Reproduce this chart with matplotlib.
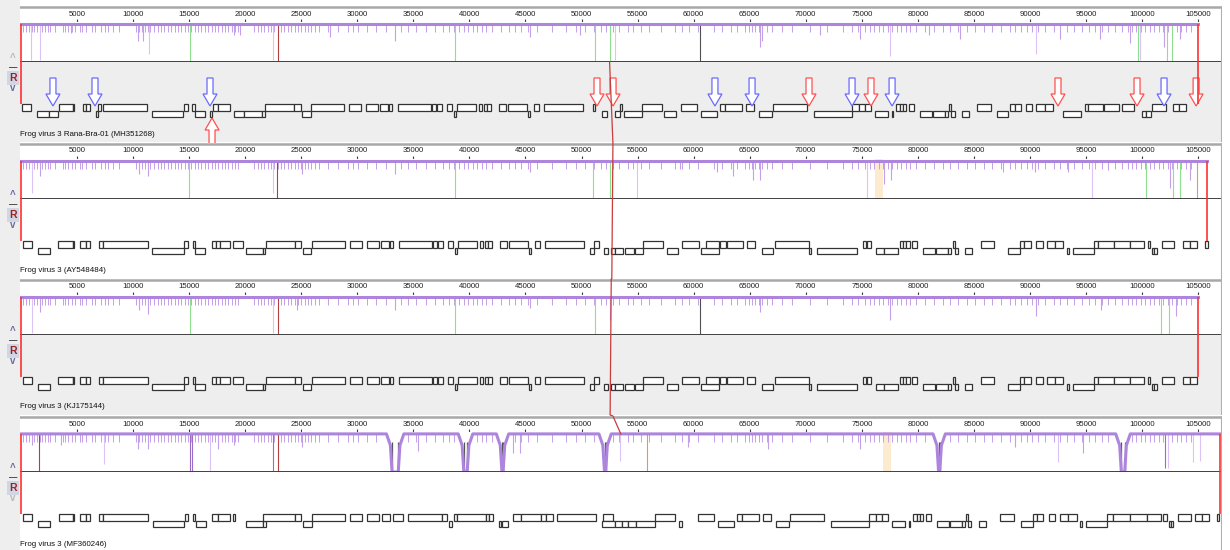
import matplotlib
matplotlib.use("Agg")
import matplotlib.pyplot as plt
from matplotlib.patches import Rectangle, Polygon

W, H = 1230, 550
BP_PER_PX = 89.2
X_ZERO = 21

names = ["Frog virus 3 Rana-Bra-01 (MH351268)", "Frog virus 3 (AY548484)",
         "Frog virus 3 (KJ175144)", "Frog virus 3 (MF360246)"]
lengths = [105000, 105800, 105000, 106950]
tick_pos = list(range(5000, 110000, 5000))

# ORFs: (start, end, strand)  1 = forward row, -1 = reverse row
genes_mh = [
    (60, 870, 1), (1450, 2500, -1), (2500, 3330, -1), (3390, 4640, 1), (4640, 4760, 1),
    (5530, 5830, 1), (5830, 6130, 1), (6660, 6840, -1), (6900, 7110, 1), (7310, 11270, 1),
    (11660, 14450, -1), (14570, 14930, 1), (15280, 15520, 1), (15520, 16410, -1), (16830, 17010, -1),
    (17160, 17600, 1), (17600, 18640, 1), (18970, 19890, -1), (19890, 21530, -1), (21530, 21740, -1),
    (21770, 24380, 1), (24380, 24950, 1), (25100, 25840, -1), (25840, 28810, 1), (29260, 30300, 1),
    (30750, 31870, 1), (32000, 32770, 1), (32830, 33070, 1), (33660, 36540, 1), (36640, 37050, 1),
    (37140, 37530, 1), (38030, 38420, 1), (38630, 38830, -1), (38920, 40560, 1), (40860, 41100, 1),
    (41300, 41600, 1), (41600, 41900, 1), (42640, 43290, 1), (43470, 45170, 1), (45260, 45400, -1),
    (45760, 46210, 1), (46650, 50130, 1), (51030, 51200, 1), (51860, 52300, -1), (52990, 53430, -1),
    (53430, 53640, 1), (53790, 55430, -1), (55430, 57150, 1), (57390, 58460, -1), (58850, 60330, 1),
    (60630, 62110, -1), (62360, 62770, 1), (62770, 64290, 1), (64700, 65390, 1), (65830, 66970, -1),
    (67110, 70150, 1), (70740, 74100, -1), (74160, 74750, 1), (74750, 75290, 1), (75290, 75800, 1),
    (76180, 77370, -1), (77670, 77810, -1), (78080, 78380, 1), (78380, 78680, 1), (78680, 78980, 1),
    (79210, 79660, 1), (80170, 81240, -1), (81360, 82430, -1), (82430, 82700, -1), (82790, 82990, 1),
    (82990, 83280, -1), (83920, 84570, -1), (85310, 86500, 1), (87090, 88070, -1), (88200, 88670, 1),
    (88670, 89180, 1), (89620, 90210, 1), (90570, 91350, 1), (91350, 92060, 1), (92950, 94530, -1),
    (94920, 95210, 1), (95210, 96520, 1), (96610, 97950, 1), (98190, 99290, 1), (99970, 100370, -1),
    (100370, 100770, -1), (100920, 102110, 1), (102770, 103300, 1), (103300, 103900, 1),
]
genes_ay = [
    (150, 950, 1), (1550, 2590, -1), (3330, 4610, 1), (4610, 4730, 1), (5260, 5800, 1), (5800, 6150, 1),
    (6960, 7340, 1), (7340, 11360, 1), (11660, 14540, -1), (14540, 14920, 1), (15370, 15520, 1),
    (15520, 16410, -1), (17010, 17400, 1), (17400, 17750, 1), (17750, 18640, 1), (18940, 19770, 1),
    (20070, 21610, -1), (21610, 21800, -1), (21830, 24440, 1), (24440, 24950, 1), (25180, 25840, -1),
    (25930, 28900, 1), (29350, 30390, 1), (30840, 31960, 1), (32090, 32860, 1), (32920, 33160, 1),
    (33750, 36630, 1), (36730, 37140, 1), (37230, 37620, 1), (38120, 38510, 1), (38720, 38920, -1),
    (39010, 40650, 1), (40950, 41190, 1), (41390, 41690, 1), (41690, 41990, 1), (42730, 43380, 1),
    (43560, 45260, 1), (45350, 45490, -1), (45850, 46300, 1), (46740, 50200, 1), (50790, 51090, -1),
    (51090, 51590, 1), (51990, 52390, -1), (52640, 52990, -1), (52990, 53740, -1), (53890, 54640, -1),
    (54790, 55490, -1), (55490, 57290, 1), (57590, 58640, -1), (58940, 60490, 1), (60690, 62240, -1),
    (61090, 62290, 1), (62390, 62890, 1), (62940, 64440, 1), (64790, 65490, 1), (66070, 67090, -1),
    (67260, 70320, 1), (70320, 70450, -1), (70990, 74590, -1), (75090, 75390, 1), (75490, 75790, 1),
    (76240, 76940, -1), (76940, 78190, -1), (78380, 78680, 1), (78680, 78980, 1), (78980, 79280, 1),
    (79510, 79960, 1), (80470, 81540, -1), (81660, 82730, -1), (82730, 83000, -1), (83090, 83290, 1),
    (83290, 83580, -1), (84220, 84870, -1), (85610, 86800, 1), (88020, 89140, -1), (89140, 89490, 1),
    (89490, 90090, 1), (90540, 91140, 1), (91520, 92230, 1), (92230, 92920, 1), (93290, 93510, -1),
    (93810, 95680, -1), (95680, 96100, 1), (96100, 97470, 1), (97470, 98950, 1), (98950, 100200, 1),
    (100500, 100740, 1), (100890, 101100, -1), (101100, 101330, -1), (101780, 102880, 1),
    (103690, 104310, 1), (104310, 104900, 1), (105620, 105860, 1),
]
genes_kj = [g for g in genes_ay if g[1] < 105000]
genes_mf = [
    (150, 950, 1), (1550, 2590, -1), (3420, 4610, 1), (4610, 4690, 1), (5260, 5800, 1), (5800, 6150, 1),
    (6960, 7340, 1), (7340, 11360, 1), (11750, 14540, -1), (14630, 14920, 1), (15370, 15520, 1),
    (15640, 16500, -1), (17010, 17570, 1), (17570, 18640, 1), (18940, 19100, 1), (20070, 21630, -1),
    (21630, 21810, -1), (21630, 24440, 1), (24440, 24950, 1), (25180, 25930, -1), (25930, 28900, 1),
    (29350, 30390, 1), (30840, 31960, 1), (32170, 32910, 1), (33210, 34050, 1), (34550, 37530, 1),
    (37530, 37970, 1), (38210, 38420, -1), (38620, 38920, 1), (38920, 41480, 1), (41480, 41770, 1),
    (41770, 42070, 1), (42670, 42790, -1), (42880, 43470, -1), (43860, 44570, 1), (44570, 46360, 1),
    (46360, 46830, 1), (46830, 47430, 1), (47840, 51290, 1), (51890, 52840, 1), (51800, 52990, -1),
    (52990, 53580, -1), (53580, 54170, -1), (54170, 54860, -1), (54860, 56550, -1), (56550, 58340, 1),
    (58700, 59000, -1), (60350, 61830, 1), (62130, 63610, -1), (63860, 64270, 1), (64270, 65790, 1),
    (66200, 66890, 1), (67330, 68470, -1), (68610, 71650, 1), (72240, 75600, -1), (75660, 76250, 1),
    (76250, 76790, 1), (76790, 77300, 1), (77680, 78870, -1), (79170, 79310, -1), (79580, 79880, 1),
    (79880, 80180, 1), (80180, 80480, 1), (80710, 81160, 1), (81670, 82740, -1), (82860, 83930, -1),
    (83930, 84200, -1), (84290, 84490, 1), (84490, 84780, -1), (85420, 86070, -1), (87330, 88580, 1),
    (89170, 90240, -1), (90240, 90650, 1), (90650, 91190, 1), (91730, 92230, 1), (92680, 93420, 1),
    (93420, 94170, 1), (94460, 94670, -1), (95000, 96900, -1), (96900, 97380, 1), (97380, 98920, 1),
    (98920, 100410, 1), (100410, 101660, 1), (101900, 102200, 1), (102430, 102610, -1),
    (102610, 102790, -1), (103240, 104340, 1), (104730, 105320, 1), (105320, 106000, 1),
    (106660, 106890, 1),
]
genes_all = [genes_mh, genes_ay, genes_kj, genes_mf]

# rearrangement arrows on the first genome
arrows_blue = [2850, 6600, 16860, 61900, 65210, 74130, 77700, 101960]
arrows_red = [51380, 52810, 70290, 75820, 92500, 99550, 104820]
arrow_up_red = [17040]

# similarity profile: short ticks under the top line
short_ticks = [200, 450, 700, 950, 1200, 1450, 1700, 1900, 2150, 2400, 2600, 3000, 3750, 3950, 4200,
               4550, 4800, 5250, 5450, 5800, 6350, 6600, 7100, 7450, 7800, 8200, 8700, 10300, 10550,
               10800, 11050, 11300, 11500, 11900, 12200, 12500, 12800, 13100, 13400, 13700, 14000, 14300,
               14600, 14900, 15200, 15500, 15800, 16100, 16400, 16700, 17000, 17300, 17600, 17900, 18200,
               18500, 18800, 19100, 19400, 20800, 21100, 21400, 21700, 22000, 22300, 22600, 22900, 23200,
               23500, 23800, 24100, 24400, 24700, 25000, 25300, 25600, 25900, 26200, 26600, 27400, 28300,
               29200, 29600, 30100, 30900, 31700, 32600, 33400, 33900, 34500, 35200, 36100, 36900, 37600,
               38200, 38600, 39100, 39500, 39900, 40300, 40700, 41100, 41500, 42000, 42800, 43500, 44100,
               44600, 45200, 46000, 47400, 48600, 49500, 50300, 51100, 51700, 52200, 52800, 53300, 54100,
               54600, 55300, 56000, 57100, 58300, 59000, 59600, 60400, 61800, 62500, 63300, 63900, 64600,
               64900, 65200, 65500, 65800, 66100, 66500, 67000, 67900, 68800, 70400, 71900, 73300, 74100,
               74700, 75300, 75700, 76100, 76500, 76900, 77300, 77700, 78100, 78500, 78900, 79300, 79800,
               80600, 81400, 82200, 82900, 83600, 84400, 85100, 85900, 86600, 87400, 88200, 88700, 89200,
               89700, 90200, 90700, 91300, 92100, 92700, 93300, 93900, 94600, 95300, 95800, 96400, 97000,
               97600, 98200, 98700, 99100, 99500, 99900, 100300, 100700, 101100, 101500, 101900, 102300,
               102700, 103100, 103500, 103900, 104400]

# longer dips (position, depth 0..1, colour key)
dips_mh = [(900, 0.95, "l"), (1670, 0.95, "l"), (4430, 0.25, "m"), (10400, 0.45, "m"), (10900, 0.45, "m"),
           (11420, 0.8, "l"), (15080, 1.0, "g"), (19000, 0.3, "m"), (19500, 0.3, "m"), (22450, 0.95, "l"),
           (22950, 1.0, "r"), (27560, 0.35, "m"), (33360, 0.45, "m"), (38700, 1.0, "g"), (45400, 0.35, "m"),
           (49860, 0.3, "m"), (51200, 1.0, "g"), (52540, 1.0, "g"), (53000, 0.95, "l"), (60570, 1.0, "k"),
           (65920, 0.6, "m"), (66100, 0.45, "m"), (71270, 0.3, "m"), (74840, 0.4, "m"), (77520, 0.85, "l"),
           (81000, 0.3, "m"), (83760, 0.4, "m"), (90540, 0.8, "l"), (92700, 0.4, "m"), (96250, 0.4, "m"),
           (98900, 0.5, "m"), (99640, 1.0, "g"), (99800, 0.95, "l"), (102000, 0.6, "m"), (102200, 1.0, "g"),
           (102700, 1.0, "g"), (103380, 0.4, "m")]
dips_ay = [(950, 0.85, "l"), (1700, 0.4, "m"), (10500, 0.35, "m"), (11360, 0.4, "m"), (15020, 1.0, "g"),
           (22450, 0.85, "l"), (22800, 1.0, "r"), (25040, 0.35, "m"), (33400, 0.35, "m"), (38700, 1.0, "g"),
           (45400, 0.3, "m"), (51050, 1.0, "g"), (52540, 1.0, "g"), (54920, 1.0, "l"), (58780, 0.2, "m"),
           (62060, 0.3, "m"), (63500, 0.4, "m"), (65300, 0.5, "m"), (65900, 0.5, "m"), (75440, 1.0, "l"),
           (77000, 0.6, "m"), (77600, 0.5, "m"), (87600, 0.3, "m"), (90450, 0.3, "m"), (93400, 0.3, "m"),
           (95500, 1.0, "l"), (96960, 0.25, "m"), (100350, 1.0, "g"), (102500, 0.7, "m"), (102800, 1.0, "g"),
           (103400, 1.0, "g"), (104300, 0.5, "m"), (104870, 1.0, "o")]
dips_kj = [(950, 0.95, "l"), (1700, 0.4, "m"), (10500, 0.35, "m"), (11360, 0.45, "m"), (15080, 1.0, "g"),
           (22450, 0.95, "l"), (22950, 1.0, "r"), (24600, 0.35, "m"), (33400, 0.35, "m"), (38700, 1.0, "g"),
           (45400, 0.3, "m"), (51200, 1.0, "g"), (52500, 0.6, "m"), (60570, 1.0, "k"), (65900, 0.4, "m"),
           (77520, 0.6, "m"), (90500, 0.5, "m"), (96300, 0.35, "m"), (101700, 1.0, "g"), (102400, 1.0, "g"),
           (103000, 0.5, "m")]
dips_mf = [(950, 0.3, "m"), (1630, 1.0, "r"), (3540, 0.3, "m"), (7430, 0.8, "l"), (10400, 0.4, "m"),
           (11360, 0.4, "m"), (15070, 1.0, "d"), (15250, 1.0, "d"), (16860, 1.0, "l"), (17580, 0.4, "m"),
           (19000, 0.3, "m"), (22450, 1.0, "d"), (22950, 1.0, "r"), (25040, 0.35, "m"), (35440, 0.45, "m"),
           (43900, 0.5, "m"), (44500, 0.5, "m"), (53430, 0.7, "l"), (55840, 1.0, "o"), (59500, 0.35, "m"),
           (66600, 0.4, "m"), (74800, 0.4, "m"), (88670, 0.35, "m"), (92500, 0.75, "l"), (94740, 0.5, "m"),
           (102050, 0.9, "d"), (102300, 0.9, "l"), (104550, 0.75, "l"), (105170, 0.7, "l")]
dips_all = [dips_mh, dips_ay, dips_kj, dips_mf]
# collinear block borders in MF360246 where similarity falls to zero
gaps_mf = [(33100, 33650), (39500, 39800), (42900, 43000), (52050, 52150), (81850, 81950), (98150, 98450)]
short_ticks_mf = [t for t in short_ticks if not any(a - 600 < t < b + 600 for a, b in gaps_mf)]
peach = [None, (76180, 76870), None, (76900, 77600)]
# homologous position joined across the four genomes
lcb_link = [52500, 52800, 52650, 53500]

tops = [4, 141, 277, 414]
white_end = [1200, 1222, 1200, 1222]
gene_bg = ["#eeeeee", "white", "#eeeeee", "white"]
dip_col = {"l": "#dcc2f5", "m": "#c4a0e8", "g": "#8ee08e", "k": "#505050", "r": "#b04040",
           "o": "#d0a060", "d": "#9a6cc8"}


def px2bp(px):
    return (px - X_ZERO) * BP_PER_PX


def add_ax(l, t, w, h):
    ax = fig.add_axes([l / W, 1 - (t + h) / H, w / W, h / H])
    ax.set_xlim(px2bp(l), px2bp(l + w))
    ax.set_axis_off()
    return ax


fig = plt.figure(figsize=(W / 100, H / 100), dpi=100)
fig.patch.set_facecolor("white")
plt.rcParams["font.family"] = ["Liberation Sans", "DejaVu Sans"]

strip = fig.add_axes([0, 0, 20 / W, 1])
strip.set_axis_off()
strip.add_patch(Rectangle((0, 0), 1, 1, color="#eeeeee", lw=0, transform=strip.transAxes))

link = []
for i in range(4):
    t = tops[i]
    L = lengths[i]
    x_end = px2bp(white_end[i])
    x_lo, x_hi = px2bp(20), px2bp(1222)

    # genes strip + label
    axg = add_ax(20, t + 58, 1202, 80)
    axg.set_ylim(80, 0)
    axg.add_patch(Rectangle((x_lo, 0), x_hi - x_lo, 80, color=gene_bg[i], lw=0))
    for s, e, strand in genes_all[i]:
        y0 = 42 if strand > 0 else 48.5
        axg.add_patch(Rectangle((s, y0), e - s, 6.5, fc="white", ec="#333333", lw=0.9))
    axg.vlines([0, L], 0, [42, 42], color="#ff3030", lw=1.2)
    axg.vlines(x_hi, 0, 80, color="#b0b0b0", lw=1.5)
    axg.text(x_lo, 72, names[i], fontsize=5.7, color="#101010", va="center", ha="left")

    # similarity profile
    axs = add_ax(20, t + 18, 1202, 40)
    axs.set_ylim(0, 1.05)
    axs.add_patch(Rectangle((x_lo, 0), x_end - x_lo, 1.05, color="white", lw=0))
    if peach[i]:
        axs.axvspan(peach[i][0], peach[i][1], color="#fdebd0", lw=0)
    axs.vlines(short_ticks if i < 3 else short_ticks_mf, 0.8, 1, color="#c6a0ea", lw=0.7)
    for p, d, c in dips_all[i]:
        axs.vlines(p, 1 - d, 1, color=dip_col[c], lw=0.8)
    if i == 3:
        xs, ys = [0], [1]
        for s, e in gaps_mf:
            xs += [s - 500, s - 150, s, e, e + 150, e + 500]
            ys += [1, 0.7, 0, 0, 0.7, 1]
            axs.vlines([s, e], 0, 0.8, color="#555555", lw=0.9)
        xs.append(L)
        ys.append(1)
        axs.plot(xs, ys, color="#ad85dc", lw=2.2)
    else:
        axs.plot([0, L], [1, 1], color="#ad85dc", lw=2.2)
    axs.plot([x_lo, x_hi], [0, 0], color="#404040", lw=1.4)
    axs.vlines([0, L], 0, 1, color="#ff3030", lw=1.2)
    axs.vlines(x_hi, 0, 1.05, color="#b0b0b0", lw=1.5)

    # ruler
    axr = add_ax(20, t + 2, 1202, 16)
    axr.set_ylim(0, 16)
    axr.add_patch(Rectangle((x_lo, 0), x_end - x_lo, 16, color="white", lw=0))
    axr.plot([x_lo, x_hi], [15.3, 15.3], color="#a8a8a8", lw=1.8)
    axr.vlines(x_hi, 0, 16, color="#b0b0b0", lw=1.5)
    clip = Rectangle((x_lo, 0), L - x_lo, 16, transform=axr.transData)
    for tp in tick_pos:
        if tp < L + 2000:
            tx = axr.text(tp, 8, str(tp), fontsize=5.6, ha="center", va="center", color="#202020")
            tx.set_clip_path(clip)
            if tp <= L:
                axr.vlines(tp, 0, 3, color="#404040", lw=0.8)

    # left controls
    up_col = "#b8b8b8" if i == 0 else "#6a6a9a"
    down_col = "#b8b8b8" if i == 3 else "#6a6a9a"
    fig.text(13 / W, 1 - (t + 54) / H, "^", fontsize=7, fontweight="bold", ha="center",
             va="center", color=up_col)
    fig.text(13 / W, 1 - (t + 64) / H, "\u2014", fontsize=6, fontweight="bold", ha="center", va="center",
             color="#202020")
    fig.text(13 / W, 1 - (t + 74) / H, "R", fontsize=7.5, fontweight="bold", ha="center", va="center",
             color="#a02020", bbox=dict(boxstyle="square,pad=0.2", fc="#cfd6e4", ec="none"))
    fig.text(13 / W, 1 - (t + 84) / H, "v", fontsize=7, fontweight="bold", ha="center", va="center",
             color=down_col)

    if i == 0:
        link.append((axs, lcb_link[i], 0))
    elif i == 3:
        link.append((axr, lcb_link[i] - 700, 16))
        link.append((axs, lcb_link[i], 1))
    else:
        link.append((axr, lcb_link[i], 16))
        link.append((axg, lcb_link[i] - 100, 80))

    if i == 0:
        w = BP_PER_PX
        for pos_list, col in ((arrows_blue, "#6a6aff"), (arrows_red, "#ff5050")):
            for c in pos_list:
                top, tip = 16, 44
                pts = [(c - 3 * w, top), (c + 3 * w, top), (c + 3 * w, tip - 12), (c + 7 * w, tip - 12),
                       (c, tip), (c - 7 * w, tip - 12), (c - 3 * w, tip - 12)]
                axg.add_patch(Polygon(pts, closed=True, fc="white", ec=col, lw=0.9))
        for c in arrow_up_red:
            tip, base = 56, 82
            pts = [(c - 3 * w, base), (c + 3 * w, base), (c + 3 * w, tip + 12), (c + 7 * w, tip + 12),
                   (c, tip), (c - 7 * w, tip + 12), (c - 3 * w, tip + 12)]
            axg.add_patch(Polygon(pts, closed=True, fc="white", ec="#ff5050", lw=0.9, clip_on=False))

# connector between homologous positions, drawn over all panels
inv = fig.transFigure.inverted()
xy = [inv.transform(ax.transData.transform((p, yv))) for ax, p, yv in link]
fig.lines.append(plt.Line2D([q[0] for q in xy], [q[1] for q in xy], transform=fig.transFigure,
                            color="#c83c3c", lw=0.9))

fig.savefig("out.png", dpi=100, facecolor=fig.get_facecolor())
